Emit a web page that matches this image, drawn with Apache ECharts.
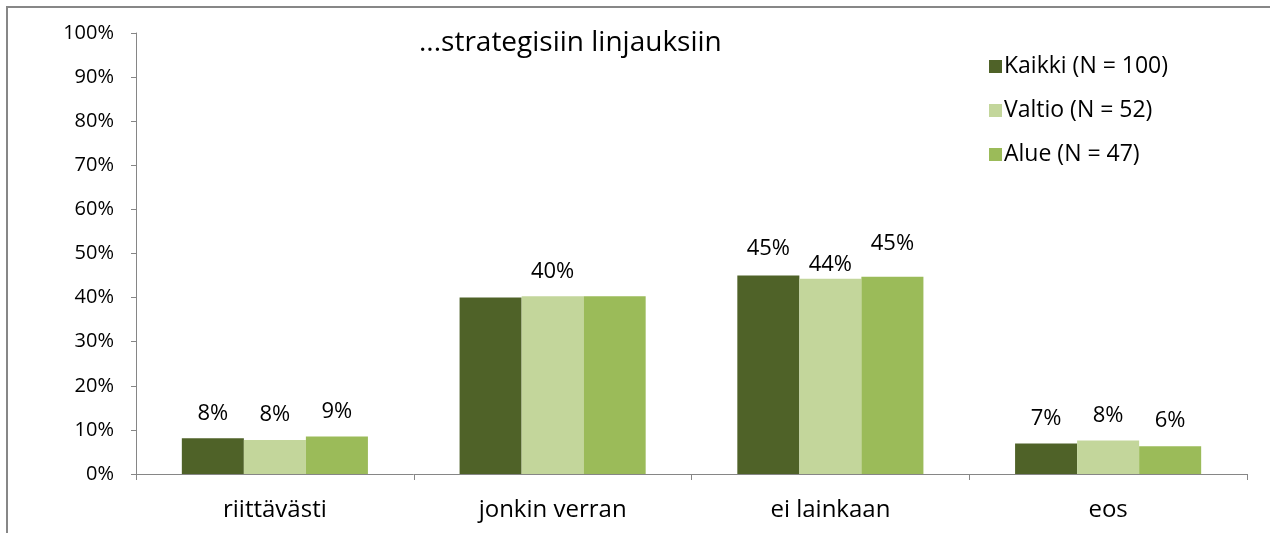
<!DOCTYPE html>
<html>
<head>
<meta charset="utf-8">
<script src="https://cdn.jsdelivr.net/npm/echarts@6/dist/echarts.min.js"></script>
<style>
  html, body { margin: 0; padding: 0; background: #fff; }
  #chart { width: 1270px; height: 533px; }
</style>
</head>
<body>
<div id="chart"></div>
<script>
var categories = ['riittävästi', 'jonkin verran', 'ei lainkaan', 'eos'];
var seriesNames = ['Kaikki (N = 100)', 'Valtio (N = 52)', 'Alue (N = 47)'];
var kaikki = [8.1, 40.0, 45.0, 6.9];
var valtio = [7.7, 40.3, 44.3, 7.6];
var alue = [8.5, 40.3, 44.7, 6.3];
var yTicks = [0, 10, 20, 30, 40, 50, 60, 70, 80, 90, 100];

var colors = ['#4F6228', '#C3D69B', '#9BBB59'];
var font = 'Open Sans';

// labels that are not shown in the original (jonkin verran: only the middle one)
var hiddenLabels = { '0-1': true, '2-1': true };
// manual nudges of a few labels, in px (positive = down)
var labelNudge = { '0-2': -2, '1-2': 11, '2-2': -8 };

function buildSeries(name, values, si) {
    return {
        name: name,
        type: 'bar',
        barGap: '0%',
        barCategoryGap: '33%',
        itemStyle: { color: colors[si] },
        data: values.map(function (v, ci) {
            var key = si + '-' + ci;
            return {
                value: v,
                label: {
                    show: !hiddenLabels[key],
                    offset: [0, labelNudge[key] || 0]
                }
            };
        }),
        label: {
            show: true,
            position: 'top',
            distance: 14,
            color: '#000',
            fontFamily: font,
            fontSize: 22,
            formatter: function (p) { return Math.round(p.value) + '%'; }
        }
    };
}

var myChart = echarts.init(document.getElementById('chart'));
var option = {
    animation: false,
    backgroundColor: '#fff',
    graphic: [{
        type: 'polyline',
        shape: { points: [[7, 540], [7, 7], [1275, 7]] },
        style: { fill: 'none', stroke: '#878787', lineWidth: 2 },
        silent: true
    }, {
        type: 'text',
        left: 419,
        top: 29,
        style: {
            text: '...strategisiin linjauksiin',
            fill: '#000',
            font: '28px "Open Sans"'
        }
    }],
    legend: {
        orient: 'vertical',
        left: 984,
        top: 50,
        itemWidth: 13,
        itemHeight: 13,
        itemGap: 21,
        icon: 'rect',
        textStyle: { color: '#000', fontFamily: font, fontSize: 23, padding: [0, 0, 0, -3] },
        data: seriesNames
    },
    grid: {
        left: 136,
        right: 23,
        top: 33,
        bottom: 59
    },
    xAxis: {
        type: 'category',
        data: categories,
        axisLine: { lineStyle: { color: '#868686', width: 1 } },
        axisTick: { show: true, length: 6, lineStyle: { color: '#868686' } },
        axisLabel: { color: '#000', fontFamily: font, fontSize: 24, margin: 24 }
    },
    yAxis: {
        type: 'value',
        min: yTicks[0],
        max: yTicks[yTicks.length - 1],
        interval: 10,
        splitLine: { show: false },
        axisLine: { show: true, lineStyle: { color: '#868686', width: 1 } },
        axisTick: { show: true, length: 5, lineStyle: { color: '#868686' } },
        axisLabel: {
            color: '#000', fontFamily: font, fontSize: 20, margin: 22,
            formatter: '{value}%'
        }
    },
    series: [
        buildSeries(seriesNames[0], kaikki, 0),
        buildSeries(seriesNames[1], valtio, 1),
        buildSeries(seriesNames[2], alue, 2)
    ]
};
myChart.setOption(option);
</script>
</body>
</html>
